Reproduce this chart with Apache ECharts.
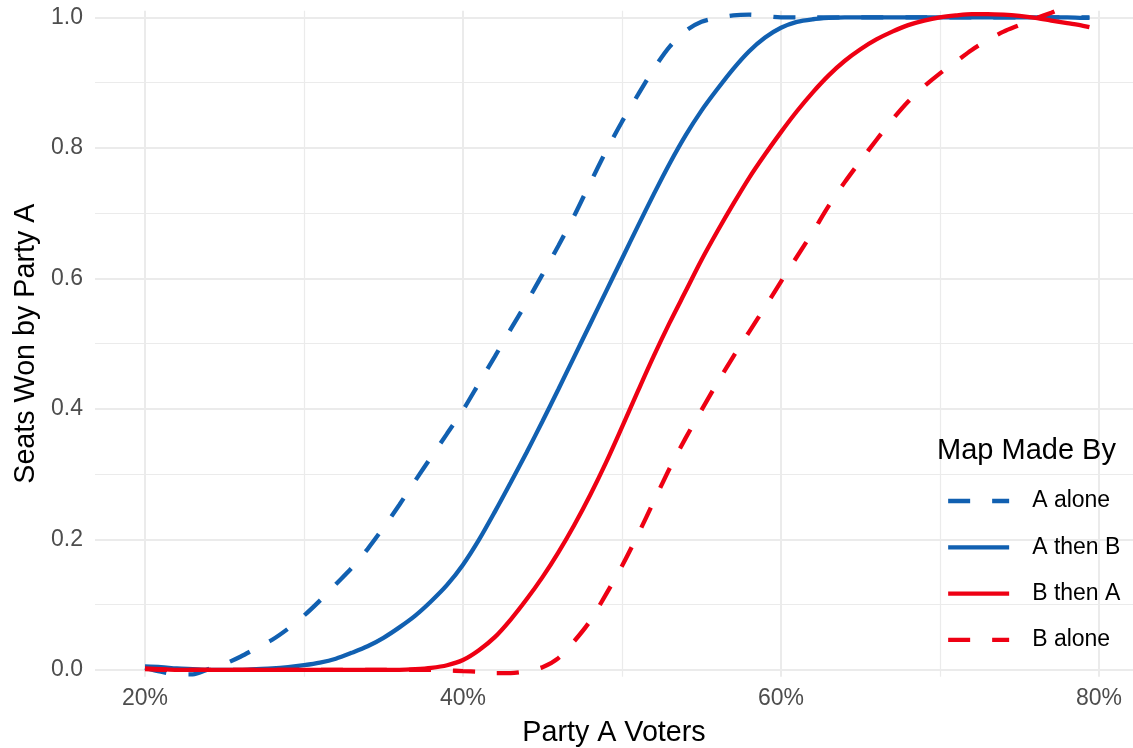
<!DOCTYPE html>
<html><head><meta charset="utf-8">
<script src="https://cdn.jsdelivr.net/npm/echarts@6/dist/echarts.min.js"></script>
<style>html,body{margin:0;padding:0;background:#fff}#c{width:1133px;height:748px}</style>
</head><body><div id="c"></div>
<script>
// ---- data ----
const voters = [20,21,22,23,24,25,26,27,28,29,30,31,32,33,34,35,36,37,38,39,40,41,42,43,44,45,46,47,48,49,50,51,52,53,54,55,56,57,58,59,60,61,62,63,64,65,66,67,68,69,70,71,72,73,74,75,76,77,78,79,79.4];
const aAlone = [0.003,-0.003,-0.007,-0.007,0.001,0.009,0.020,0.033,0.046,0.063,0.083,0.106,0.131,0.156,0.185,0.218,0.253,0.290,0.326,0.362,0.398,0.439,0.480,0.522,0.563,0.606,0.650,0.696,0.746,0.795,0.840,0.881,0.921,0.955,0.979,0.993,0.999,1.003,1.004,1.002,1.000,1.000,1.000,1.000,1.000,1.000,1.000,1.000,1.000,1.000,1.000,1.000,1.000,1.000,1.000,1.000,1.000,1.000,1.000,1.000,1.000];
const aThenB = [0.005,0.004,0.002,0.001,0.000,0.000,0.000,0.001,0.002,0.004,0.007,0.011,0.017,0.026,0.036,0.049,0.065,0.083,0.105,0.130,0.161,0.199,0.242,0.287,0.333,0.381,0.430,0.480,0.530,0.580,0.630,0.680,0.729,0.776,0.819,0.857,0.890,0.921,0.948,0.969,0.984,0.993,0.997,0.999,1.000,1.000,1.000,1.000,1.000,1.000,1.000,1.000,1.000,1.000,1.000,1.000,1.000,1.000,1.000,0.999,0.999];
const bThenA = [0.002,0.001,0.000,0.000,0.000,0.000,0.000,0.000,0.000,0.000,0.000,0.000,0.000,0.000,0.000,0.000,0.000,0.001,0.003,0.007,0.015,0.030,0.050,0.077,0.108,0.142,0.180,0.222,0.268,0.318,0.372,0.427,0.481,0.532,0.580,0.628,0.672,0.714,0.754,0.790,0.824,0.856,0.885,0.911,0.933,0.951,0.966,0.978,0.988,0.995,1.000,1.003,1.005,1.005,1.004,1.002,0.999,0.995,0.991,0.987,0.985];
const votersB = [20,21,22,23,24,25,26,27,28,29,30,31,32,33,34,35,36,37,38,39,40,41,42,43,44,45,46,47,48,49,50,51,52,53,54,55,56,57,58,59,60,61,62,63,64,65,66,67,68,69,70,71,72,73,74,75,76,77,77.2];
const bAlone = [0.001,0.000,0.000,0.000,0.000,0.000,0.000,0.000,0.000,0.000,0.000,0.000,0.000,0.000,0.000,0.000,0.000,0.000,0.000,-0.001,-0.002,-0.003,-0.005,-0.005,-0.002,0.004,0.018,0.044,0.075,0.116,0.159,0.207,0.258,0.309,0.355,0.398,0.440,0.480,0.518,0.556,0.595,0.633,0.671,0.711,0.747,0.780,0.812,0.843,0.871,0.894,0.914,0.932,0.950,0.965,0.978,0.988,0.998,1.007,1.009];
const seriesNames = ['A alone','A then B','B then A','B alone'];
const xMajorTicks = [20,40,60,80];
const xMinorTicks = [30,50,70];
const yMajorTicks = [0,0.2,0.4,0.6,0.8,1.0];
const yMinorTicks = [0.1,0.3,0.5,0.7,0.9];

// ---- styling ----
const BLUE = '#1160B1';
const RED = '#EE0013';
const FONT = 'Liberation Sans';
const GRID = '#EBEBEB';

function pairs(xs, ys){ return xs.map((x,i)=>[x, ys[i]]); }
function mkSeries(name, xs, ys, color, dashed){
  return {
    name, type:'line', data: pairs(xs, ys), symbol:'none', smooth:0.3,
    lineStyle:{color, width:4.3, type: dashed ? [22,22] : 'solid', cap:'butt'},
    itemStyle:{color}, emphasis:{disabled:true}, clip:false
  };
}

const chart = echarts.init(document.getElementById('c'), null, {renderer:'canvas'});
chart.setOption({
  animation:false,
  backgroundColor:'#ffffff',
  textStyle:{fontFamily:FONT},
  grid:{left:95, top:10.7, right:0, bottom:71.3, outerBoundsMode:'none', containLabel:false},
  title:{text:'Map Made By', left:937, top:436,
    textStyle:{fontFamily:FONT, fontSize:29, fontWeight:'normal', color:'#000', lineHeight:29}, padding:0},
  legend:{
    data: seriesNames, orient:'vertical', left:946, top:489.5,
    itemWidth:61, itemHeight:23, itemGap:23.3, padding:0,
    itemStyle:{opacity:0, borderWidth:0},
    lineStyle:{width:4.3, type:'inherit', cap:'butt'},
    textStyle:{fontFamily:FONT, fontSize:23, color:'#000', lineHeight:23, padding:[0,0,0,18]},
    selectedMode:false
  },
  xAxis:[
    {type:'value', min:16.855, max:82.14,
     name:'Party A Voters', nameLocation:'middle', nameGap:42,
     nameTextStyle:{fontFamily:FONT, fontSize:28.7, color:'#000'},
     axisLine:{show:false},
     axisTick:{show:false, customValues:xMajorTicks},
     axisLabel:{customValues:xMajorTicks, formatter:'{value}%', fontFamily:FONT, fontSize:23, color:'#4D4D4D', margin:10},
     splitLine:{show:true, lineStyle:{color:GRID, width:2}}},
    {type:'value', min:16.855, max:82.14, position:'bottom',
     axisLine:{show:false},
     axisTick:{show:false, customValues:xMinorTicks},
     axisLabel:{show:false, customValues:xMinorTicks},
     splitLine:{show:true, lineStyle:{color:GRID, width:1.2}}}
  ],
  yAxis:[
    {type:'value', min:-0.0106, max:1.0101,
     name:'Seats Won by Party A', nameLocation:'middle', nameGap:54, nameRotate:90,
     nameTextStyle:{fontFamily:FONT, fontSize:28.7, color:'#000'},
     axisLine:{show:false},
     axisTick:{show:false, customValues:yMajorTicks},
     axisLabel:{customValues:yMajorTicks, formatter:v=>v.toFixed(1), fontFamily:FONT, fontSize:23, color:'#4D4D4D', margin:12},
     splitLine:{show:true, lineStyle:{color:GRID, width:2}}},
    {type:'value', min:-0.0106, max:1.0101, position:'left',
     axisLine:{show:false},
     axisTick:{show:false, customValues:yMinorTicks},
     axisLabel:{show:false, customValues:yMinorTicks},
     splitLine:{show:true, lineStyle:{color:GRID, width:1.2}}}
  ],
  series:[
    mkSeries(seriesNames[0], voters, aAlone, BLUE, true),
    mkSeries(seriesNames[1], voters, aThenB, BLUE, false),
    mkSeries(seriesNames[2], voters, bThenA, RED, false),
    mkSeries(seriesNames[3], votersB, bAlone, RED, true)
  ]
});
</script></body></html>
